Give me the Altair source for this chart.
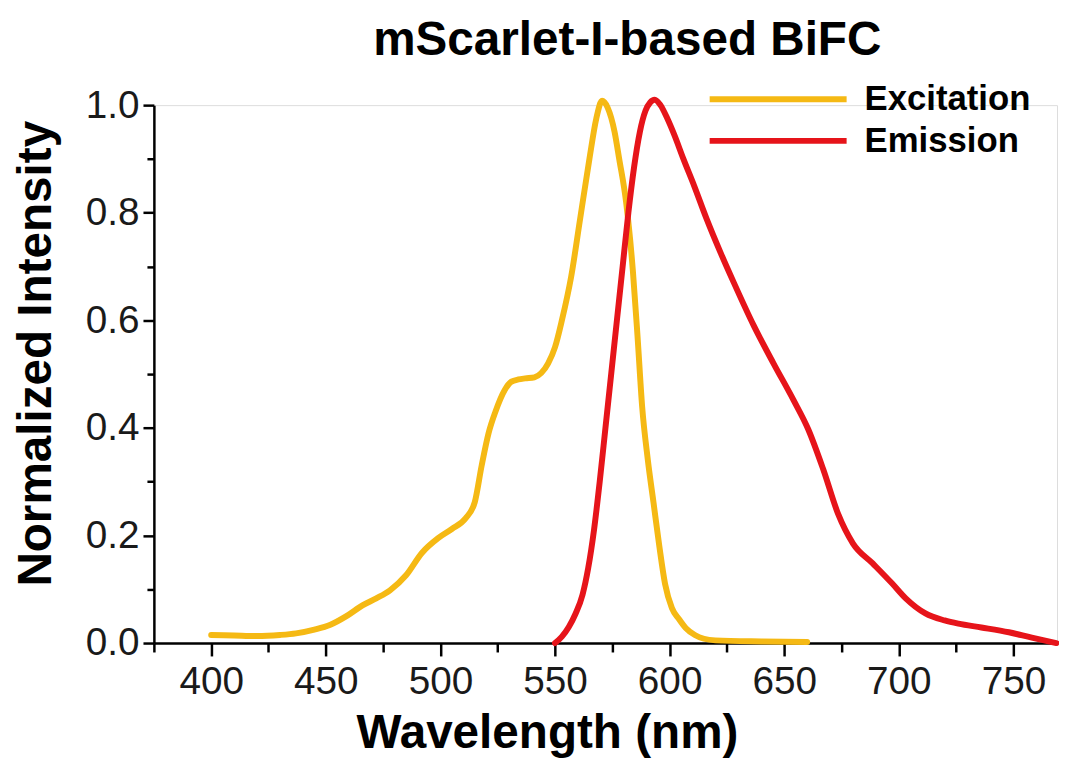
import altair as alt
import pandas as pd

# ---- data ----
ex_nm = [400, 410, 420, 430, 437, 445, 452, 459, 466, 472, 478, 485, 492, 499,
         505, 511, 515, 518, 521, 524, 528, 531, 534, 537, 541, 544, 547, 550,
         553, 557, 561, 565, 568, 570.5, 573, 576, 578, 581, 584, 586, 588,
         590.5, 593, 595.5, 598, 601, 604, 607, 611, 615, 620, 640, 660]
ex_val = [0.015, 0.014, 0.013, 0.015, 0.018, 0.025, 0.034, 0.05, 0.07, 0.083,
          0.098, 0.126, 0.168, 0.195, 0.212, 0.232, 0.262, 0.33, 0.39, 0.43,
          0.47, 0.486, 0.49, 0.492, 0.494, 0.502, 0.52, 0.55, 0.60, 0.68, 0.79,
          0.90, 0.975, 1.008, 0.995, 0.95, 0.90, 0.82, 0.69, 0.57, 0.44,
          0.34, 0.26, 0.18, 0.11, 0.065, 0.045, 0.028, 0.015, 0.008, 0.005, 0.003, 0.002]

em_nm = [550, 553, 556, 559, 562, 564.5, 567, 569.5, 572, 574.5, 577, 579.5,
         582, 584.5, 587, 589.5, 591.5, 593.5, 596, 599, 602, 606, 610.7, 616,
         622.3, 628, 636.7, 645.3, 654, 660.5, 667, 673.5, 680, 688.6, 697, 703,
         711.6, 720, 726, 736, 748, 758, 768.7]
em_val = [0.0, 0.012, 0.03, 0.055, 0.09, 0.14, 0.21, 0.30, 0.40, 0.50, 0.60,
          0.70, 0.80, 0.885, 0.95, 0.99, 1.005, 1.01, 1.0, 0.975, 0.945, 0.90,
          0.85, 0.79, 0.725, 0.67, 0.59, 0.52, 0.452, 0.397, 0.323, 0.24,
          0.185, 0.148, 0.111, 0.083, 0.055, 0.042, 0.036, 0.029, 0.02, 0.01, 0.0]

series_names = ["Excitation", "Emission"]
series_colors = ["#F5B914", "#E6141A"]
x_ticks = [375, 400, 425, 450, 475, 500, 525, 550, 575, 600, 625, 650, 675, 700, 725, 750]
y_ticks = [0.0, 0.1, 0.2, 0.3, 0.4, 0.5, 0.6, 0.7, 0.8, 0.9, 1.0]

ex_df = pd.DataFrame({"wavelength": ex_nm, "intensity": ex_val, "series": series_names[0]})
em_df = pd.DataFrame({"wavelength": em_nm, "intensity": em_val, "series": series_names[1]})

FONT = "Liberation Sans"

x_enc = alt.X(
    "wavelength:Q",
    scale=alt.Scale(domain=[375, 769], nice=False, zero=False),
    axis=alt.Axis(
        values=x_ticks,
        labelExpr="datum.value % 50 === 0 ? datum.label : ''",
        format="d",
        title="Wavelength (nm)",
        titleFont=FONT, titleFontSize=48, titleFontWeight="bold", titleColor="black",
        titleX=396, titleY=105, titleAlign="center", titleBaseline="alphabetic",
        labelFont=FONT, labelFontSize=39, labelColor="#1a1a1a",
        labelPadding=7, labelFlush=False, labelOverlap=False,
        tickSize={"condition": {"test": "datum.value % 50 === 0", "value": 13}, "value": 9},
        tickWidth=2.5, tickColor="black",
        domainColor="black", domainWidth=2.5, grid=False,
    ),
)

y_enc = alt.Y(
    "intensity:Q",
    scale=alt.Scale(domain=[0, 1], nice=False, zero=False),
    axis=alt.Axis(
        values=y_ticks,
        labelExpr="round(datum.value*10) % 2 === 0 ? format(datum.value, '.1f') : ''",
        title="Normalized Intensity",
        titleFont=FONT, titleFontSize=48, titleFontWeight="bold", titleColor="black",
        titleAngle=270, titleX=-104, titleY=250, titleAlign="center", titleBaseline="alphabetic",
        labelFont=FONT, labelFontSize=39, labelColor="#1a1a1a",
        labelPadding=4, labelFlush=False, labelOverlap=False,
        tickSize={"condition": {"test": "round(datum.value*10) % 2 === 0", "value": 11}, "value": 7},
        tickWidth=2.5, tickColor="black",
        domainColor="black", domainWidth=2.5, grid=False,
    ),
)

color_enc = alt.Color(
    "series:N",
    scale=alt.Scale(domain=series_names, range=series_colors),
    legend=alt.Legend(
        title=None, orient="none", legendX=557, legendY=-27,
        symbolType="stroke", symbolSize=19044, symbolStrokeWidth=6,
        clipHeight=42, rowPadding=0, padding=0,
        labelFont=FONT, labelFontSize=35, labelFontWeight="bold", labelColor="black",
        labelOffset=15, labelLimit=400,
    ),
)

ex_line = alt.Chart(ex_df).mark_line(strokeWidth=6, interpolate="monotone", strokeCap="round", clip=False).encode(
    x=x_enc, y=y_enc, color=color_enc
)
em_line = alt.Chart(em_df).mark_line(strokeWidth=6, interpolate="monotone", strokeCap="round", clip=False).encode(
    x=x_enc, y=y_enc, color=color_enc
)

chart = alt.layer(ex_line, em_line).properties(
    width=910,
    height=542,
    autosize=alt.AutoSizeParams(type="none"),
    padding={"left": 147, "top": 95, "right": 2, "bottom": 120},
    title=alt.Title(
        "mScarlet-I-based BiFC", font=FONT, fontSize=48, fontWeight="bold", color="black",
        anchor="middle", dx=22, offset=14,
    ),
).configure_view(stroke=None).configure(background="white")

chart.save("out.html", embed_options={"renderer": "svg", "actions": False})
